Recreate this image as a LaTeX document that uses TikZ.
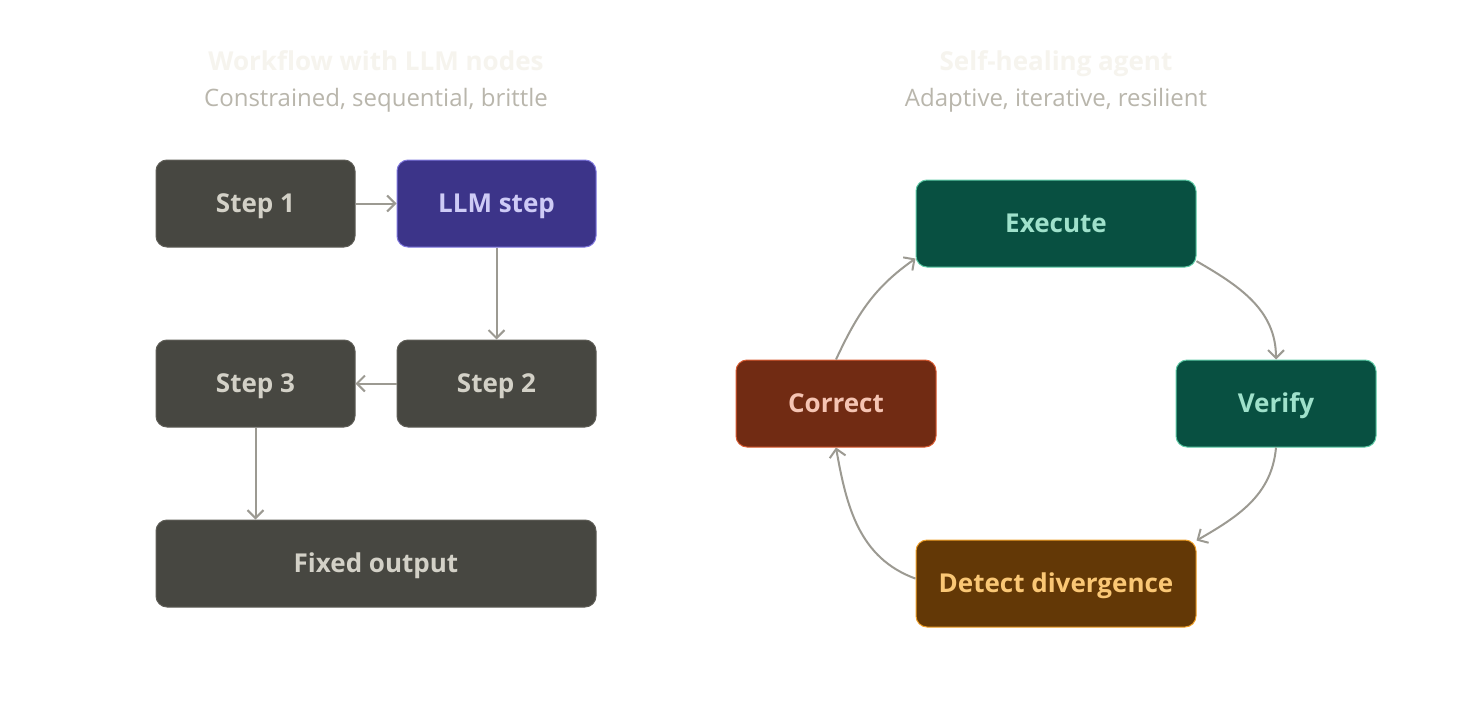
\documentclass[tikz,border=0pt]{standalone}
\usepackage{fontspec}
\setmainfont{Open Sans}
\usetikzlibrary{positioning,arrows.meta}
\definecolor{pagebg}{HTML}{FFFFFF}
\definecolor{titlecol}{HTML}{F6F4EE}
\definecolor{subcol}{HTML}{B9B6AC}
\definecolor{arrowcol}{HTML}{9C9A92}
\definecolor{greyfill}{HTML}{474741}
\definecolor{greyline}{HTML}{5F5E57}
\definecolor{greytext}{HTML}{D3D1C7}
\definecolor{llmfill}{HTML}{3C3489}
\definecolor{llmline}{HTML}{7F77DD}
\definecolor{llmtext}{HTML}{CECBF6}
\definecolor{tealfill}{HTML}{085041}
\definecolor{tealline}{HTML}{5DCAA5}
\definecolor{tealtext}{HTML}{9FE1CB}
\definecolor{rustfill}{HTML}{712B13}
\definecolor{rustline}{HTML}{D85A30}
\definecolor{rusttext}{HTML}{F5C4B3}
\definecolor{amberfill}{HTML}{633806}
\definecolor{amberline}{HTML}{EF9F27}
\definecolor{ambertext}{HTML}{FAC775}
\tikzset{
  flowarrow/.style={-{Straight Barb[length=8pt,width=16pt]}, line width=2pt, draw=arrowcol},
  basebox/.style={rounded corners=11pt, line width=1pt, minimum height=87pt, align=center,
    text height=23pt, text depth=4.5pt, font=\bfseries\fontsize{26}{30}\selectfont},
  stepbox/.style={basebox, draw=greyline, fill=greyfill, text=greytext, minimum width=199pt},
  llmbox/.style={basebox, draw=llmline, fill=llmfill, text=llmtext, minimum width=199pt},
  tealbox/.style={basebox, draw=tealline, fill=tealfill, text=tealtext},
  rustbox/.style={basebox, draw=rustline, fill=rustfill, text=rusttext, minimum width=200pt},
  amberbox/.style={basebox, draw=amberline, fill=amberfill, text=ambertext, minimum width=280pt},
  paneltitle/.style={anchor=base, font=\bfseries\fontsize{26}{30}\selectfont, text=titlecol},
  panelsub/.style={anchor=base, font=\fontsize{24}{28}\selectfont, text=subcol}
}
\begin{document}
\begin{tikzpicture}[x=1pt, y=1pt]
  \fill[pagebg] (0,0) rectangle (1472,-720);
  \useasboundingbox (0,0) rectangle (1472,-720);

  % left panel: fixed workflow
  \node[paneltitle] (wftitle) at (376,-70) {Workflow with LLM nodes};
  \node[panelsub] (wfsub) at (376,-106) {Constrained, sequential, brittle};
  \node[stepbox] (step1) at (255.5,-203.5) {Step 1};
  \node[llmbox] (llm) at (496.5,-203.5) {LLM step};
  \node[stepbox] (step2) at (496.5,-383.5) {Step 2};
  \node[stepbox] (step3) at (255.5,-383.5) {Step 3};
  \node[stepbox, minimum width=440pt] (fixed) at (376,-563.5) {Fixed output};
  \draw[flowarrow] (step1) -- (llm);
  \draw[flowarrow] (llm) -- (step2);
  \draw[flowarrow] (step2) -- (step3);
  \draw[flowarrow] (step3) -- (step3 |- fixed.north);

  % right panel: agent loop
  \node[paneltitle] (agtitle) at (1056,-70) {Self-healing agent};
  \node[panelsub] (agsub) at (1056,-106) {Adaptive, iterative, resilient};
  \node[tealbox, minimum width=280pt] (exec) at (1056,-223.5) {Execute};
  \node[tealbox, minimum width=200pt] (verify) at (1276,-403.5) {Verify};
  \node[amberbox] (detect) at (1056,-583.5) {Detect divergence};
  \node[rustbox] (correct) at (836,-403.5) {Correct};
  \draw[flowarrow] (exec.-15) to[out=-30, in=90] (verify.north);
  \draw[flowarrow] (verify.south) to[out=-95, in=30] (detect.17);
  \draw[flowarrow] (detect.178) to[out=160, in=-80] (correct.south);
  \draw[flowarrow] (correct.north) to[out=65, in=215] (exec.194);
\end{tikzpicture}
\end{document}
